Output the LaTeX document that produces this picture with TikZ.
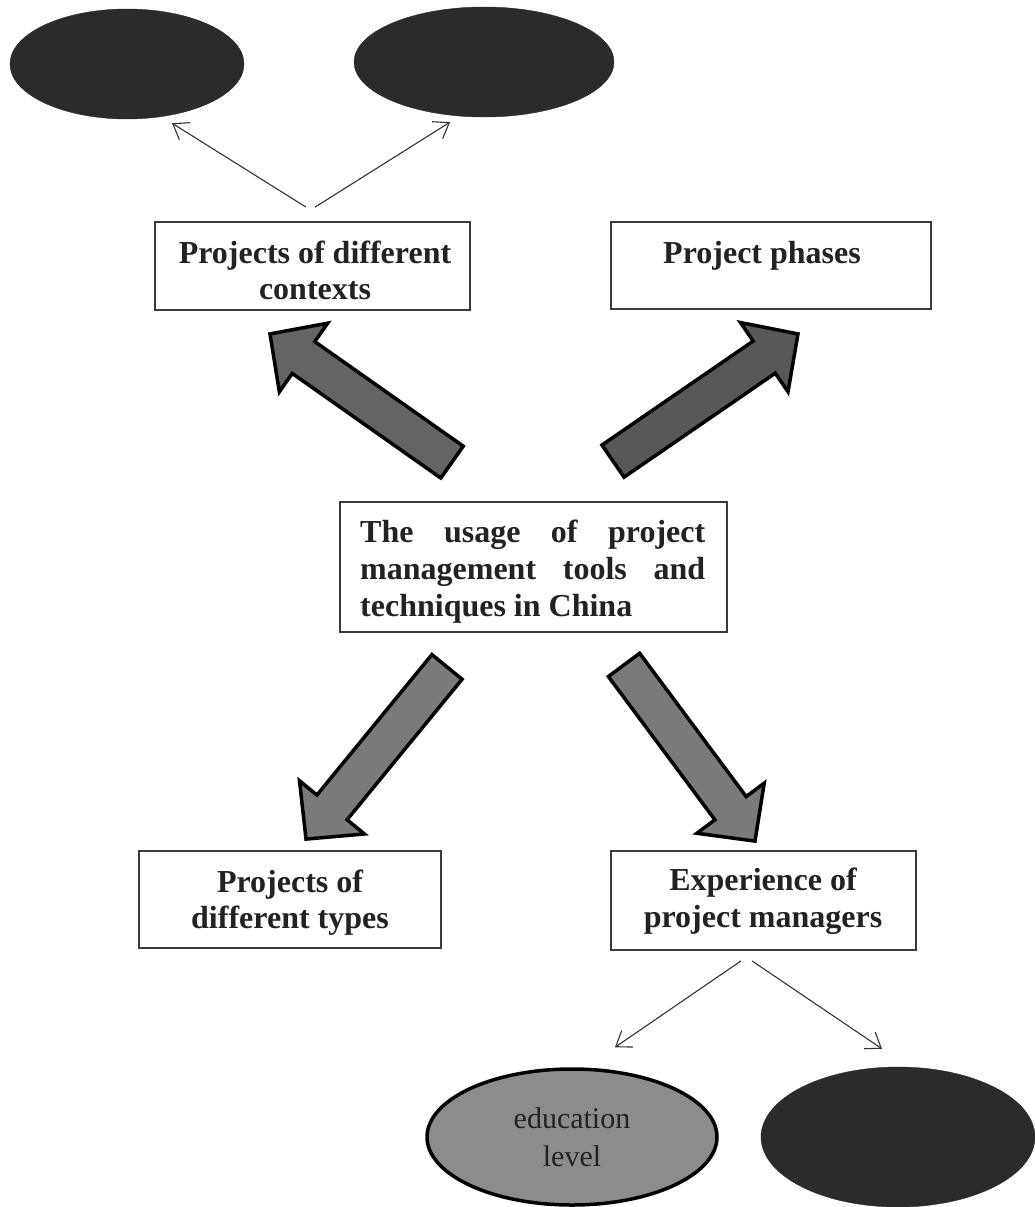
\documentclass[tikz,border=0pt]{standalone}
\usepackage{fontspec}
\setmainfont{Liberation Serif}
\usetikzlibrary{calc,shapes.geometric,arrows.meta}
\definecolor{blob}{HTML}{2B2B2B}
\definecolor{boxc}{HTML}{3A3A3A}
\definecolor{txtc}{HTML}{222222}
\definecolor{linec}{HTML}{333333}
\definecolor{grayA}{HTML}{646464}
\definecolor{grayB}{HTML}{585858}
\definecolor{grayC}{HTML}{7A7A7A}
\definecolor{eduf}{HTML}{8C8C8C}
\newcommand{\blockarrow}[3]{%
  \draw[bigarrow,fill=#1] let \p1=(#2), \p2=(#3),
    \n1={atan2(\y2-\y1,\x2-\x1)}, \n2={veclen(\x2-\x1,\y2-\y1)} in
    [shift={(\p1)}, rotate=\n1]
    (0,-19.5) -- (\n2-41,-19.5) -- (\n2-41,-42) -- (\n2,0) -- (\n2-41,42)
    -- (\n2-41,19.5) -- (0,19.5) -- cycle;}
\begin{document}
\begin{tikzpicture}[x=1pt,y=-1pt,
  box/.style={draw=boxc, line width=1.8pt, fill=white, inner sep=0pt, rectangle},
  lbl/.style={font=\fontsize{32}{36}\bfseries\selectfont, text=txtc, inner sep=0pt, anchor=base},
  thin/.style={draw=linec, line width=1.1pt, -{Straight Barb[length=14pt,width=20pt,line width=1.1pt]}},
  bigarrow/.style={draw=black, line width=3.5pt, line join=miter},
  blobell/.style={ellipse, fill=blob, draw=blob, inner sep=0pt},
]
\useasboundingbox[fill=white] (0,0) rectangle (1034,1207);

% ellipses
\node[blobell, minimum width=234, minimum height=110] (e1) at (127,64) {};
\node[blobell, minimum width=260, minimum height=110] (e2) at (484,62) {};
\node[ellipse, fill=eduf, draw=black, line width=3.5pt, inner sep=0pt,
      minimum width=290, minimum height=136, align=center,
      font=\fontsize{30}{38}\selectfont, text=txtc] (e3) at (572,1137) {education\\level};
\node[blobell, minimum width=274, minimum height=140] (e4) at (898,1137) {};

% boxes
\node[box, minimum width=315, minimum height=88] (b1) at (312.5,266) {};
\node[box, minimum width=320, minimum height=87] (b2) at (771,265.5) {};
\node[box, minimum width=387, minimum height=130] (c) at (533.5,567) {};
\node[box, minimum width=302, minimum height=97] (b3) at (290,899.5) {};
\node[box, minimum width=305, minimum height=99] (b4) at (763.5,900.5) {};

% texts
\node[lbl] (t1) at (315,263) {\begin{tabular}[t]{@{}c@{}}Projects of different\\contexts\end{tabular}};
\node[lbl] (t2) at (762,263) {Project phases};
\node[lbl, font=\fontsize{32}{37}\bfseries\selectfont, anchor=base west] (tc) at (360,542)
  {\begin{tabular}[t]{@{}l@{}}\makebox[345pt][s]{The usage of project}\\
   \makebox[345pt][s]{management tools and}\\techniques in China\end{tabular}};
\node[lbl] (t3) at (290,892) {\begin{tabular}[t]{@{}c@{}}Projects of\\different types\end{tabular}};
\node[lbl, font=\fontsize{32}{37}\bfseries\selectfont] (t4) at (763,890) {\begin{tabular}[t]{@{}c@{}}Experience of\\project managers\end{tabular}};

% thin arrows
\draw[thin] ($(b1.north)+(-6.5,-14)$) -- ($(e1.south)+(45,4)$);
\draw[thin] ($(b1.north)+(2.5,-14)$) -- ($(e2.south)+(-34,5)$);
\draw[thin] ($(b4.south)+(-22.5,10)$) -- ($(e3.north)+(43,-20)$);
\draw[thin] ($(b4.south)+(-11.5,10)$) -- ($(e4.north)+(-16,-18)$);

% block arrows
\blockarrow{grayA}{$(c.north)+(-81.5,-39)$}{$(b1.south)+(-42.5,23)$}
\blockarrow{grayB}{$(c.north)+(79.5,-40)$}{$(b2.south)+(27,24)$}
\blockarrow{grayC}{$(c.south)+(-86.5,34)$}{$(b3.north)+(16,-11)$}
\blockarrow{grayC}{$(c.south)+(90.5,32)$}{$(b4.north)+(-8.5,-9)$}
\end{tikzpicture}
\end{document}
